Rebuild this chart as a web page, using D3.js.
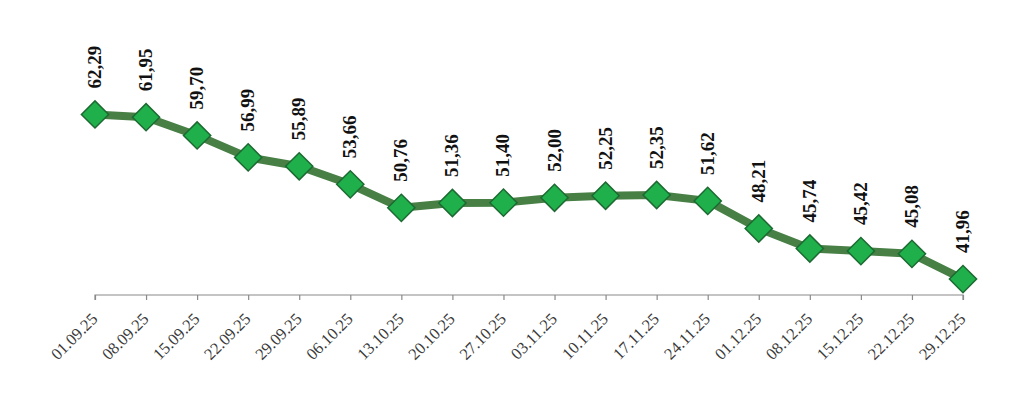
<!DOCTYPE html>
<html><head><meta charset="utf-8">
<script src="https://cdn.jsdelivr.net/npm/d3@7"></script>
<style>html,body{margin:0;padding:0;background:#fff;}svg{display:block;}</style>
</head><body>
<svg id="chart" width="1024" height="416"></svg>
<script>
const categories = ["01.09.25","08.09.25","15.09.25","22.09.25","29.09.25","06.10.25","13.10.25","20.10.25","27.10.25","03.11.25","10.11.25","17.11.25","24.11.25","01.12.25","08.12.25","15.12.25","22.12.25","29.12.25"];
const values = [62.29,61.95,59.70,56.99,55.89,53.66,50.76,51.36,51.40,52.00,52.25,52.35,51.62,48.21,45.74,45.42,45.08,41.96];
const yDomain = [40, 70];

const svg = d3.select("#chart");
const x = d3.scalePoint().domain(categories).range([95, 963]);
const y = d3.scaleLinear().domain(yDomain).range([295, 52]);

// axis
const axis = svg.append("g").attr("transform", "translate(0,295)")
  .call(d3.axisBottom(x).tickSize(5).tickSizeOuter(0).tickPadding(0));
axis.select(".domain").attr("stroke", "#8a8a8a").attr("stroke-width", 1.2)
  .attr("d", `M${x(categories[0])},5V0H${x(categories[categories.length-1])}V5`);
axis.selectAll(".tick line").attr("stroke", "#8a8a8a").attr("stroke-width", 1.2);
axis.selectAll(".tick text")
  .attr("font-family", "'Liberation Serif', 'Times New Roman', serif")
  .attr("font-size", 16.5).attr("fill", "#3a3a3a")
  .attr("text-anchor", "end").attr("dy", 0).attr("y", 0)
  .attr("transform", "translate(3,25) rotate(-45)");

// line
const line = d3.line().x((d,i) => x(categories[i])).y(d => y(d));
svg.append("path").datum(values)
  .attr("fill", "none").attr("stroke", "#477f45").attr("stroke-width", 8)
  .attr("stroke-linejoin", "round").attr("d", line);

// markers
const sym = d3.symbol().type(d3.symbolSquare).size(370);
svg.append("g").selectAll("path").data(values).join("path")
  .attr("d", sym)
  .attr("transform", (d,i) => `translate(${x(categories[i])},${y(d)}) rotate(45)`)
  .attr("fill", "#20b04b").attr("stroke", "#1c6a32").attr("stroke-width", 1.5);

// labels
const fmt = d3.format(".2f");
svg.append("g").selectAll("text").data(values).join("text")
  .attr("transform", (d,i) => `translate(${x(categories[i]) + 6},${y(d) - 26}) rotate(-90)`)
  .attr("text-anchor", "start")
  .attr("font-family", "'Liberation Serif', 'Times New Roman', serif")
  .attr("font-weight", "bold").attr("font-size", 19).attr("fill", "#111")
  .text(d => fmt(d).replace(".", ","));
</script>
</body></html>
